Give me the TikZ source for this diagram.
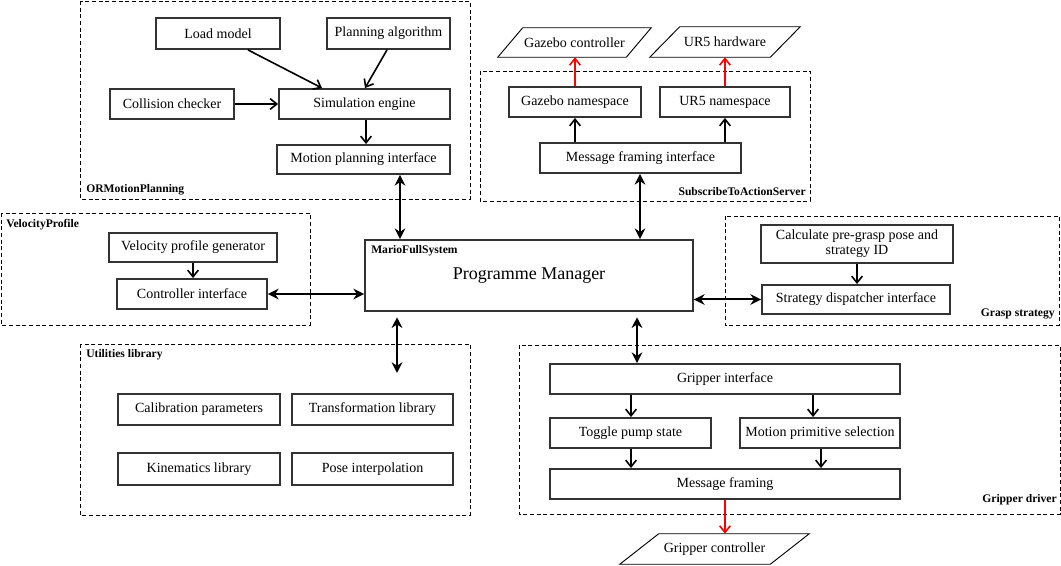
\documentclass[tikz,border=0pt]{standalone}
\usepackage{fontspec}
\setmainfont{Liberation Serif}
\usetikzlibrary{arrows.meta}
\begin{document}
\begin{tikzpicture}[x=0.75pt,y=-0.75pt,
 rect/.style n args={4}{at={({(#1+#3)/2},{(#2+#4)/2})},minimum width={(#3-#1)*0.75pt},minimum height={(#4-#2)*0.75pt}},
 bx/.style={draw=black!80,line width=1.4pt,inner sep=0pt,font=\fontsize{10.5}{12.5}\selectfont,align=center},
 grp/.style={draw=black,line width=0.6pt,dash pattern=on 3pt off 2pt},
 glab/.style={font=\bfseries\fontsize{8.7}{10}\selectfont,inner sep=0pt},
 io/.style={inner sep=0pt,font=\fontsize{10.5}{12.5}\selectfont},
 ioline/.style={draw=black,line width=0.7pt,line join=miter},
 ar/.style={-{Straight Barb[length=5pt,width=8pt]},line width=1.2pt},
 rar/.style={ar,draw=red},
 pmar/.style={{Stealth[length=8pt,width=8pt]}-{Stealth[length=8pt,width=8pt]},line width=1.5pt},
]
\useasboundingbox (0,0) rectangle (1061,566);
% groups
\draw[grp] (80,1) rectangle (470,199);
\draw[grp] (480,71) rectangle (810,201);
\draw[grp] (1,213) rectangle (310,325);
\draw[grp] (725,216) rectangle (1059,325);
\draw[grp] (80,344) rectangle (470,515);
\draw[grp] (519,345) rectangle (1060,514);
% group labels
\node[glab,anchor=west] (l1) at (86,190) {ORMotionPlanning};
\node[glab,anchor=east] (l2) at (806,192) {SubscribeToActionServer};
\node[glab,anchor=west] (l3) at (6,225) {VelocityProfile};
\node[glab,anchor=east] (l5) at (1055,314) {Grasp strategy};
\node[glab,anchor=west] (l6) at (86,355) {Utilities library};
\node[glab,anchor=east] (l7) at (1057,500) {Gripper driver};
% boxes
\node[bx,rect={156}{18}{280}{49}] (lm) {Load model};
\node[bx,rect={327}{18}{450}{49}] (pa) {Planning algorithm};
\node[bx,rect={110}{89}{234}{119}] (cc) {Collision checker};
\node[bx,rect={279}{89}{450}{119}] (sim) {Simulation engine};
\node[bx,rect={277}{145}{450}{174}] (mpi) {Motion planning interface};
\node[bx,rect={509}{87}{641}{117}] (gns) {Gazebo namespace};
\node[bx,rect={660}{87}{790}{117}] (uns) {UR5 namespace};
\node[bx,rect={540}{143}{741}{173}] (mfi) {Message framing interface};
\node[bx,rect={109}{233}{277}{262}] (vpg) {Velocity profile generator};
\node[bx,rect={117}{279}{267}{309}] (ci) {Controller interface};
\node[bx,rect={365}{240}{693}{311},font=\fontsize{13.5}{16}\selectfont] (pm) {Programme Manager};
\node[glab,anchor=west] (l4) at (371,251) {MarioFullSystem};
\node[bx,rect={761}{225}{953}{263},font=\fontsize{10.5}{11.3}\selectfont,text depth=3pt] (cpg) {Calculate pre-grasp pose and\\strategy ID};
\node[bx,rect={762}{285}{950}{314}] (sdi) {Strategy dispatcher interface};
\node[bx,rect={118}{394}{280}{425}] (calp) {Calibration parameters};
\node[bx,rect={292}{394}{453}{425}] (trl) {Transformation library};
\node[bx,rect={118}{453}{280}{485}] (kin) {Kinematics library};
\node[bx,rect={292}{453}{453}{485}] (pose) {Pose interpolation};
\node[bx,rect={550}{364}{900}{394}] (gi) {Gripper interface};
\node[bx,rect={550}{418}{711}{448}] (tps) {Toggle pump state};
\node[bx,rect={740}{418}{900}{448}] (mps) {Motion primitive selection};
\node[bx,rect={550}{469}{900}{499}] (mf) {Message framing};
% io parallelograms
\node[io,rect={498}{28}{651}{57}] (gc) {Gazebo controller};
\draw[ioline] (gc.south west) -- ([xshift=-18.75pt]gc.south east) -- (gc.north east) -- ([xshift=18.75pt]gc.north west) -- cycle;
\node[io,rect={650}{27}{800}{57}] (uh) {UR5 hardware};
\draw[ioline] (uh.south west) -- ([xshift=-22.5pt]uh.south east) -- (uh.north east) -- ([xshift=22.5pt]uh.north west) -- cycle;
\node[io,rect={620}{534}{809}{564}] (gctrl) {Gripper controller};
\draw[ioline] (gctrl.south west) -- ([xshift=-29.25pt]gctrl.south east) -- (gctrl.north east) -- ([xshift=29.25pt]gctrl.north west) -- cycle;
\coordinate (ulend) at (397,373);
% arrows
\draw[ar] (248,0 |- lm.south) -- (322,0 |- sim.north);
\draw[ar] (387,0 |- pa.south) -- (365,0 |- sim.north);
\draw[ar] (cc.east) -- (sim.west);
\draw[ar] (366,0 |- sim.south) -- (366,0 |- mpi.north);
\draw[ar] (575,0 |- mfi.north) -- (575,0 |- gns.south);
\draw[ar] (725,0 |- mfi.north) -- (725,0 |- uns.south);
\draw[rar] (575,0 |- gns.north) -- (575,0 |- gc.south);
\draw[rar] (725,0 |- uns.north) -- (725,0 |- uh.south);
\draw[ar] (193,0 |- vpg.south) -- (193,0 |- ci.north);
\draw[ar] (857,0 |- cpg.south) -- (857,0 |- sdi.north);
\draw[ar] (631,0 |- gi.south) -- (631,0 |- tps.north);
\draw[ar] (813,0 |- gi.south) -- (813,0 |- mps.north);
\draw[ar] (631,0 |- tps.south) -- (631,0 |- mf.north);
\draw[ar] (821,0 |- mps.south) -- (821,0 |- mf.north);
\draw[rar] (725,0 |- mf.south) -- (725,0 |- gctrl.north);
\draw[pmar] (400,0 |- mpi.south) -- (400,0 |- pm.north);
\draw[pmar] (640,0 |- mfi.south) -- (640,0 |- pm.north);
\draw[pmar] (pm.west |- ci.east) -- (ci.east);
\draw[pmar] (pm.east |- sdi.west) -- (sdi.west);
\draw[pmar,shorten <=4pt] (397,0 |- pm.south) -- (ulend);
\draw[pmar,shorten <=4pt] (637,0 |- pm.south) -- (637,0 |- gi.north);
\end{tikzpicture}
\end{document}
